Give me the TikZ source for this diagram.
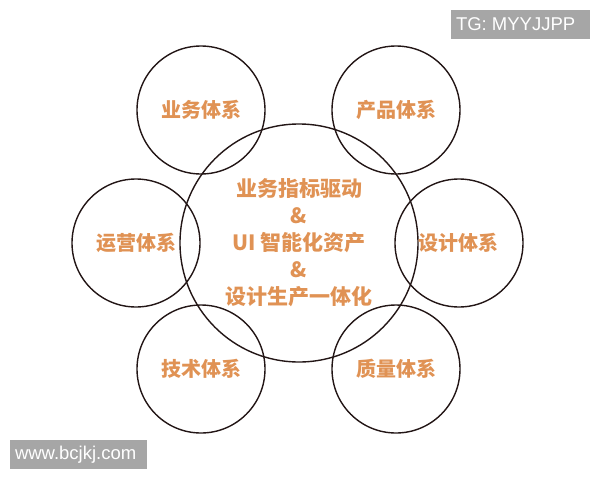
\documentclass[tikz,border=0pt]{standalone}
\usepackage{fontspec}
\setmainfont{Liberation Sans}
\newfontfamily\cjk{Noto Sans CJK SC}
\definecolor{lbl}{RGB}{224,146,84}
\definecolor{ring}{RGB}{35,22,22}
\definecolor{wm}{RGB}{166,166,166}
\begin{document}
\begin{tikzpicture}[x=1pt,y=-1pt,
  ringst/.style={draw=ring,line width=1.4pt,circle,inner sep=0pt},
  lblst/.style={text=lbl,font=\cjk\bfseries\fontsize{20}{20}\selectfont},
  centerst/.style={text=lbl,font=\cjk\bfseries\fontsize{21}{27}\selectfont,align=center},
  wmbox/.style={fill=wm,inner sep=0pt},
  wmtext/.style={text=white,font=\fontsize{18.5}{18.5}\selectfont,anchor=west,inner sep=0pt}]
\useasboundingbox (0,0) rectangle (600,480);
\fill[white] (0,0) rectangle (600,480);
\node[ringst,minimum size=238pt] (main) at (299,243) {};
\node[ringst,minimum size=128pt] (c1) at (201,110) {};
\node[ringst,minimum size=128pt] (c2) at (396,110) {};
\node[ringst,minimum size=128pt] (c3) at (136,243) {};
\node[ringst,minimum size=128pt] (c4) at (459,243) {};
\node[ringst,minimum size=128pt] (c5) at (201,369) {};
\node[ringst,minimum size=128pt] (c6) at (396,369) {};
\node[lblst] (t1) at (c1) {业务体系};
\node[lblst] (t2) at (c2) {产品体系};
\node[lblst] (t3) at (c3) {运营体系};
\node[lblst] (t4) at (458,243) {设计体系};
\node[lblst] (t5) at (c5) {技术体系};
\node[lblst] (t6) at (c6) {质量体系};
\node[centerst] (tc) at (299,243) {业务指标驱动\\\&\\UI 智能化资产\\\&\\设计生产一体化};
\node[wmbox,minimum width=139pt,minimum height=29pt] (w1) at (520.5,24.5) {};
\node[wmtext] (w1t) at ([xshift=5pt]w1.west) {TG: MYYJJPP};
\node[wmbox,minimum width=137pt,minimum height=29pt] (w2) at (78.5,454.5) {};
\node[wmtext] (w2t) at ([xshift=5pt]w2.west) {www.bcjkj.com};
\end{tikzpicture}
\end{document}
